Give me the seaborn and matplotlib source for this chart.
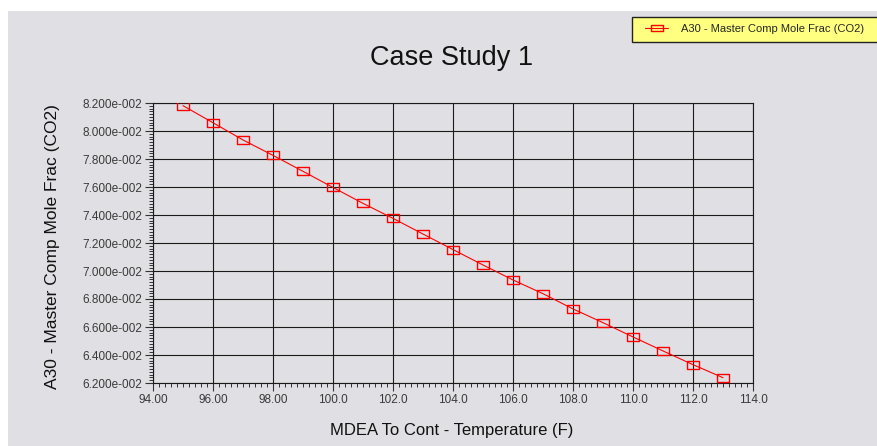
import numpy as np
import pandas as pd
import seaborn as sns
import matplotlib
matplotlib.use("Agg")
import matplotlib.pyplot as plt
from matplotlib.path import Path
from matplotlib.patches import Rectangle
from matplotlib.ticker import MultipleLocator, FuncFormatter

# ---- data ----
temperature = [95, 96, 97, 98, 99, 100, 101, 102, 103, 104,
               105, 106, 107, 108, 109, 110, 111, 112, 113]
co2_frac = [0.08181, 0.08059, 0.07936, 0.07826, 0.07712, 0.07597, 0.07483,
            0.07376, 0.07264, 0.07153, 0.07043, 0.06936, 0.06838, 0.06729,
            0.06631, 0.06529, 0.06429, 0.06331, 0.06238]
series_name = "A30 - Master Comp Mole Frac (CO2)"
title = "Case Study 1"
xlabel = "MDEA To Cont - Temperature (F)"
ylabel = "A30 - Master Comp Mole Frac (CO2)"

df = pd.DataFrame({"T": temperature, "y": co2_frac})

W, H = 877, 446
sns.set_style("ticks")
plt.rcParams["font.family"] = ["Liberation Sans", "DejaVu Sans"]

BG = "#e0dfe3"
fig = plt.figure(figsize=(W / 100, H / 100), dpi=100, facecolor="white")
fig.patches.append(Rectangle((8 / W, 0), 1, (H - 11) / H, transform=fig.transFigure,
                             facecolor=BG, edgecolor="none", zorder=-10))

ax = fig.add_axes([153 / W, 1 - 383 / H, 600 / W, 280 / H])
ax.set_facecolor(BG)

rect = Path([(-1, -0.6), (1, -0.6), (1, 0.6), (-1, 0.6), (-1, -0.6)],
            [Path.MOVETO, Path.LINETO, Path.LINETO, Path.LINETO, Path.CLOSEPOLY])
sns.lineplot(data=df, x="T", y="y", ax=ax, color="#ff0000", linewidth=0.8,
             marker=rect, markersize=9.3, markerfacecolor="none",
             markeredgecolor="#ff0000", markeredgewidth=1.0, label=series_name,
             legend=False, zorder=5)

ax.set_xlim(94, 114)
ax.set_ylim(0.062, 0.082)
ax.xaxis.set_major_locator(MultipleLocator(2))
ax.xaxis.set_minor_locator(MultipleLocator(0.2))
ax.yaxis.set_major_locator(MultipleLocator(0.002))
ax.yaxis.set_minor_locator(MultipleLocator(0.0002))


def yfmt(v, pos):
    if v == 0:
        return "0.000e+000"
    e = int(np.floor(np.log10(abs(v)) + 1e-12))
    m = v / 10 ** e
    return f"{m:.3f}e{'-' if e < 0 else '+'}{abs(e):03d}"


def xfmt(v, pos):
    return f"{v:.2f}" if v < 100 else f"{v:.1f}"


ax.yaxis.set_major_formatter(FuncFormatter(yfmt))
ax.xaxis.set_major_formatter(FuncFormatter(xfmt))

ax.grid(which="major", color="#1a1a1a", linewidth=0.8)
for s in ax.spines.values():
    s.set_color("#1a1a1a")
    s.set_linewidth(0.8)
ax.tick_params(which="major", direction="out", length=6, width=0.8,
               color="#333333", labelsize=8.5, labelcolor="#3a3a3a", pad=2)
ax.tick_params(which="minor", direction="out", length=3, width=0.7, color="#333333")

ax.set_xlabel("")
ax.set_ylabel("")
fig.text(452 / W, 1 - 431 / H, xlabel, ha="center", va="center", fontsize=12, color="#111111")
fig.text(53 / W, 1 - 247 / H, ylabel, ha="center", va="center", rotation=90,
         fontsize=12.5, color="#111111")
fig.text(452 / W, 1 - 58 / H, title, ha="center", va="center", fontsize=19.5, color="#111111")

# legend box
fig.patches.append(Rectangle((632 / W, 1 - 41.5 / H), (890 - 632) / W, 24.8 / H,
                             transform=fig.transFigure, facecolor="#ffff80",
                             edgecolor="#222222", linewidth=1.0, zorder=1))
handles, labels = ax.get_legend_handles_labels()
fig.legend(handles, labels, loc="center left", bbox_to_anchor=(645 / W, 1 - 29 / H),
           bbox_transform=fig.transFigure, frameon=False, fontsize=8,
           borderpad=0, borderaxespad=0, handlelength=2.1, handletextpad=1.1,
           markerscale=0.9)

fig.savefig("out.png", dpi=100, facecolor="white")
